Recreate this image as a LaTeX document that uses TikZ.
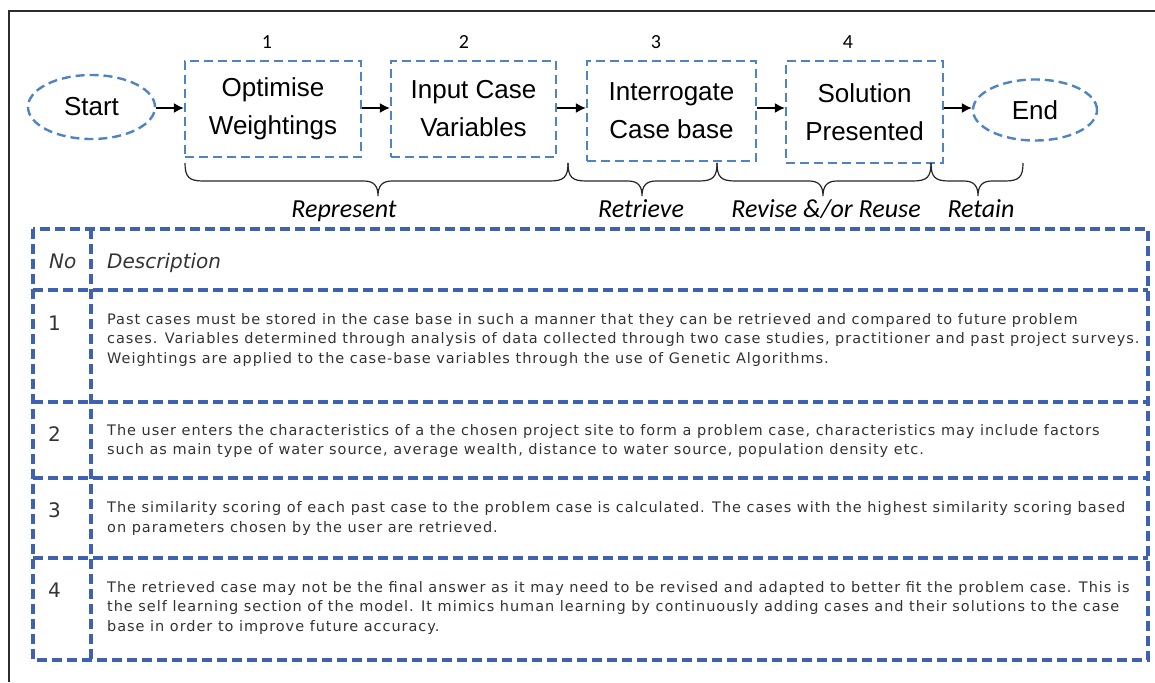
\documentclass[tikz,border=0pt]{standalone}
\usepackage{fontspec}
\usetikzlibrary{arrows.meta,shapes.geometric}
\newfontfamily\arialf{Liberation Sans}
\newfontfamily\calif{Carlito}
\newfontfamily\dejaf{DejaVu Sans}
\newfontfamily\tabf[LetterSpace=6.6]{DejaVu Sans}
\definecolor{boxblue}{RGB}{79,132,196}
\definecolor{tabblue}{RGB}{63,98,176}
\definecolor{txtgray}{RGB}{51,51,51}
\definecolor{framegray}{RGB}{45,45,45}
\newcommand\curlybrace[4]{%
  \draw[bracestyle] (#1,#4) .. controls (#1,177) and ({#1+4},181) .. ({#1+18},181)
    -- ({#2-14},181) .. controls ({#2-4},181) and (#2,186) .. (#2,196)
    .. controls (#2,186) and ({#2+4},181) .. ({#2+14},181)
    -- ({#3-18},181) .. controls ({#3-4},181) and (#3,177) .. (#3,#4);}
\begin{document}
\begin{tikzpicture}[x=1pt,y=-1pt,
  procbox/.style={draw=boxblue,line width=2.4pt,dash pattern=on 9pt off 5pt,
    rectangle,align=center,inner sep=0pt,
    font=\arialf\fontsize{26}{38}\selectfont},
  term/.style={draw=boxblue,line width=2.4pt,dash pattern=on 9pt off 5pt,
    ellipse,inner sep=0pt,font=\arialf\fontsize{26}{30}\selectfont},
  arr/.style={draw=black,line width=1.4pt,-{Latex[length=10pt,width=10pt]}},
  bracestyle/.style={draw=black!85,line width=1.2pt},
  lbl/.style={font=\calif\itshape\fontsize{26}{28}\selectfont,inner sep=0pt},
  num/.style={font=\calif\fontsize{20}{24}\selectfont,inner sep=0pt},
  tab/.style={draw=tabblue,line width=3.2pt,dash pattern=on 10pt off 5pt},
  rowtxt/.style={anchor=base west,inner sep=0pt,text=txtgray,
    font=\tabf\fontsize{14.5}{19}\selectfont},
  rownum/.style={anchor=base west,inner sep=0pt,text=txtgray,
    font=\dejaf\fontsize{20}{24}\selectfont},
  headtxt/.style={anchor=base west,inner sep=0pt,text=txtgray,
    font=\dejaf\itshape\fontsize{20}{24}\selectfont}
]
\useasboundingbox (0,0) rectangle (1155,682);
% outer frame (cropped)
\draw[framegray,line width=2.2pt] (9,682) -- (9,11) -- (1155,11);

% process row
\node[term,minimum width=127pt,minimum height=64pt] (start) at (91.5,107) {Start};
\node[procbox,minimum width=176pt,minimum height=96pt] (b1) at (273,109) {Optimise\\Weightings};
\node[procbox,minimum width=165pt,minimum height=96pt] (b2) at (473.5,109) {Input Case\\Variables};
\node[procbox,minimum width=169pt,minimum height=100pt] (b3) at (671.5,111) {Interrogate\\Case base};
\node[procbox,minimum width=157pt,minimum height=102pt] (b4) at (864.5,112) {Solution\\Presented};
\node[term,minimum width=124pt,minimum height=61pt] (end) at (1035,110) {End};

\node[num,anchor=base] (n1) at (267,49) {1};
\node[num,anchor=base] (n2) at (464,49) {2};
\node[num,anchor=base] (n3) at (656,49) {3};
\node[num,anchor=base] (n4) at (848,49) {4};

\draw[arr] (start.east |- 0,108) -- (b1.west |- 0,108);
\draw[arr] (b1.east |- 0,108) -- (b2.west |- 0,108);
\draw[arr] (b2.east |- 0,108) -- (b3.west |- 0,108);
\draw[arr] (b3.east |- 0,108) -- (b4.west |- 0,108);
\draw[arr] (b4.east |- 0,108) -- (end.west |- 0,108);

% braces
\curlybrace{185}{378}{568}{163}
\curlybrace{568}{642}{717}{163}
\curlybrace{717}{823}{931}{163}
\curlybrace{931}{978}{1023}{163}

\node[lbl,anchor=base] (lrep) at (344,217) {Represent};
\node[lbl,anchor=base] (lret) at (641,217) {Retrieve};
\node[lbl,anchor=base] (lrev) at (826,217) {Revise \&/or Reuse};
\node[lbl,anchor=base] (ltn) at (981,217) {Retain};

% table
\coordinate (tl) at (33,229);
\coordinate (br) at (1148,660);
\coordinate (colx) at (91,229);
\draw[tab] (tl) rectangle (br);
\foreach \yy in {290,402,478,558}{
  \draw[tab] (tl |- 0,\yy) -- (br |- 0,\yy);
}
\draw[tab] (colx) -- (colx |- br);

\node[headtxt] (hno) at (49,268) {No};
\node[headtxt] (hdesc) at (107,268) {Description};

\node[rownum] (k1) at (48,330) {1};
\node[rownum] (k2) at (48,441) {2};
\node[rownum] (k3) at (48,517) {3};
\node[rownum] (k4) at (48,597) {4};

\node[rowtxt] (t1a) at (107,324) {Past cases must be stored in the case base in such a manner that they can be retrieved and compared to future problem};
\node[rowtxt] (t1b) at (107,343.5) {cases. Variables determined through analysis of data collected through two case studies, practitioner and past project surveys.};
\node[rowtxt] (t1c) at (107,363) {Weightings are applied to the case-base variables through the use of Genetic Algorithms.};

\node[rowtxt] (t2a) at (107,435) {The user enters the characteristics of a the chosen project site to form a problem case, characteristics may include factors};
\node[rowtxt] (t2b) at (107,454.5) {such as main type of water source, average wealth, distance to water source, population density etc.};

\node[rowtxt] (t3a) at (107,512.5) {The similarity scoring of each past case to the problem case is calculated. The cases with the highest similarity scoring based};
\node[rowtxt] (t3b) at (107,532) {on parameters chosen by the user are retrieved.};

\node[rowtxt] (t4a) at (107,592) {The retrieved case may not be the final answer as it may need to be revised and adapted to better fit the problem case. This is};
\node[rowtxt] (t4b) at (107,611.5) {the self learning section of the model. It mimics human learning by continuously adding cases and their solutions to the case};
\node[rowtxt] (t4c) at (107,631) {base in order to improve future accuracy.};
\end{tikzpicture}
\end{document}
